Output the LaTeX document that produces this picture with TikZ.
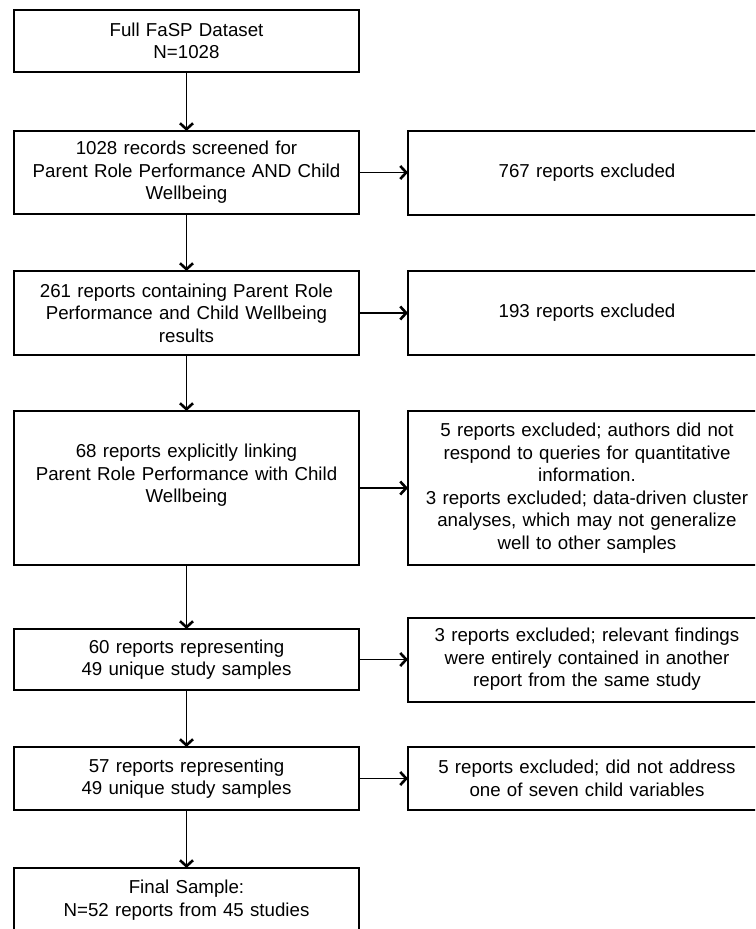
\documentclass[tikz,border=0pt]{standalone}
\usepackage{fontspec}
\setmainfont{Liberation Sans}
\usetikzlibrary{positioning,arrows.meta}

\begin{document}
\begin{tikzpicture}[x=1pt, y=-1pt, font=\fontsize{18.7}{22.5}\selectfont]
    % Define styles
    \tikzstyle{stage} = [rectangle, draw, line width=2pt, text width=337pt, inner sep=4pt, outer sep=0pt, align=center, minimum height=62pt]
    \tikzstyle{excluded} = [stage, text width=350pt, minimum height=84pt]
    \tikzstyle{line} = [draw, line width=1.8pt, -{Straight Barb[length=6pt,width=13pt,line width=2.6pt]}]

    \clip (0,0) rectangle (755,929);

    % Nodes
    \node [stage] (full) at (186.5,41) {Full FaSP Dataset\\N=1028};
    \node [stage, below=59pt of full, minimum height=83pt] (screened) {1028 records screened for\\Parent Role Performance AND Child\\Wellbeing};
    \node [stage, below=57pt of screened, minimum height=84pt] (results) {261 reports containing Parent Role\\Performance and Child Wellbeing\\results};
    \node [stage, below=56pt of results, minimum height=154pt] (linking) {68 reports explicitly linking\\Parent Role Performance with Child\\Wellbeing\\\strut};
    \node [stage, below=64pt of linking, minimum height=61pt] (unique) {60 reports representing\\49 unique study samples};
    \node [stage, below=57pt of unique, minimum height=63pt] (variables) {57 reports representing\\49 unique study samples};
    \node [stage, below=58pt of variables, minimum height=64pt] (final) {Final Sample:\\N=52 reports from 45 studies};

    \node [excluded, right=49pt of screened] (exA) {767 reports excluded};
    \node [excluded, right=49pt of results] (exB) {193 reports excluded};
    \node [excluded, right=49pt of linking, minimum height=154pt] (exC) {5 reports excluded; authors did not\\respond to queries for quantitative\\information.\\3 reports excluded; data-driven cluster\\analyses, which may not generalize\\well to other samples};
    \node [excluded, right=49pt of unique] (exD) {3 reports excluded; relevant findings\\were entirely contained in another\\report from the same study};
    \node [excluded, right=49pt of variables, minimum height=63pt] (exE) {5 reports excluded; did not address\\one of seven child variables};

    % Connections
    \path [line] (full) -- (screened);
    \path [line] (screened) -- (results);
    \path [line] (results) -- (linking);
    \path [line] (linking) -- (unique);
    \path [line] (unique) -- (variables);
    \path [line] (variables) -- (final);
    \path [line] (screened) -- (exA);
    \path [line] (results) -- (exB);
    \path [line] (linking) -- (exC);
    \path [line] (unique) -- (exD);
    \path [line] (variables) -- (exE);
\end{tikzpicture}
\end{document}
